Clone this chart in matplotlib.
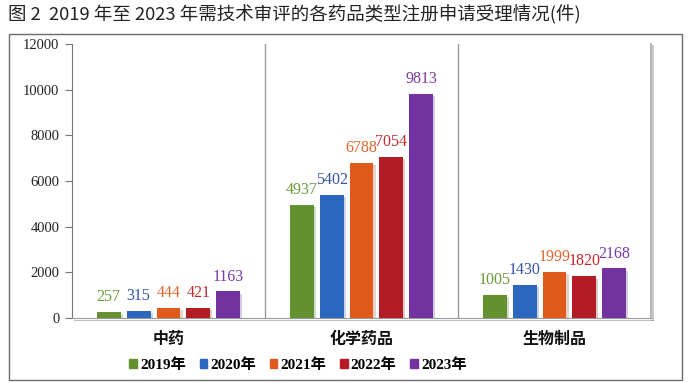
import matplotlib
matplotlib.use("Agg")
import matplotlib.pyplot as plt
from matplotlib.patches import Rectangle
import matplotlib.patheffects as pe
import numpy as np

categories = ["中药", "化学药品", "生物制品"]
years = ["2019年", "2020年", "2021年", "2022年", "2023年"]
v2019 = [257, 4937, 1005]
v2020 = [315, 5402, 1430]
v2021 = [444, 6788, 1999]
v2022 = [421, 7054, 1820]
v2023 = [1163, 9813, 2168]
series = [v2019, v2020, v2021, v2022, v2023]
bar_colors = ["#64912F", "#2B67BE", "#E05A1C", "#B31C24", "#7232A0"]
label_colors = ["#6A9A3A", "#3552A5", "#E0652D", "#C2292F", "#7A3AA5"]
yticks = [0, 2000, 4000, 6000, 8000, 10000, 12000]
title = "图 2  2019 年至 2023 年需技术审评的各药品类型注册申请受理情况(件)"

cjk = ["Noto Sans CJK SC", "DejaVu Sans"]
serif = ["Liberation Serif", "DejaVu Serif"]
serif_cjk = ["Liberation Serif", "Noto Sans CJK SC"]
plt.rcParams["font.family"] = serif

fig = plt.figure(figsize=(6.96, 3.82), dpi=100)
fig.patches.append(Rectangle((9/696, 2/382), (682-9)/696, (380-34)/382,
                             transform=fig.transFigure, fill=False,
                             edgecolor="#6b6b6b", linewidth=1.0))
fig.text(8/696, 1 - 15/382, title, family=cjk, fontsize=13.3,
         ha="left", va="center", color="#222222")

ax = fig.add_axes([72/696, 1 - 318/382, (651-72)/696, (318-44)/382])
x = np.arange(len(categories))
spacing = 0.155
width = 0.124
shadow = [pe.SimplePatchShadow(offset=(1.5, -1.5), alpha=0.22, rho=0.6), pe.Normal()]
for i, (vals, c, lc) in enumerate(zip(series, bar_colors, label_colors)):
    xs = x + (i - 2) * spacing
    bars = ax.bar(xs, vals, width=width, color=c, zorder=3, label=years[i])
    for b in bars:
        b.set_path_effects(shadow)
    for xx, v in zip(xs, vals):
        ax.annotate(f"{v}", (xx, v), xytext=(0, 5), textcoords="offset points",
                    ha="center", va="bottom", family=serif, fontsize=11.5, color=lc)

ax.set_xlim(-0.5, 2.5)
ax.set_ylim(0, 12000)
ax.set_yticks(yticks)
ax.set_yticklabels([str(t) for t in yticks])
ax.tick_params(axis="y", direction="out", length=5, color="#777777", pad=4,
               labelsize=10.5, labelcolor="#222222")
for lbl in ax.get_yticklabels():
    lbl.set_fontfamily(serif)
ax.set_xticks([])
for xv in [0.5, 1.5]:
    ax.axvline(xv, color="#9a9a9a", linewidth=1.0, zorder=1)
ax.spines["top"].set_visible(False)
ax.spines["left"].set_color("#777777")
ax.spines["bottom"].set_color("#9a9a9a")
ax.spines["right"].set_color("#a8a8a8")
ax.spines["right"].set_linewidth(1.2)
for s in ["bottom", "right"]:
    ax.spines[s].set_path_effects([pe.SimpleLineShadow(offset=(1.5, -1.5), alpha=0.25), pe.Normal()])

for xx, cat in zip(x, categories):
    ax.text(xx, -0.075, cat, transform=ax.get_xaxis_transform(), ha="center", va="center",
            family=cjk, fontweight="bold", fontsize=11.5, color="#111111")

handles = [Rectangle((0, 0), 1, 1, color=c) for c in bar_colors]
leg = fig.legend(handles, years, loc="center", bbox_to_anchor=(298/696, 1 - 365/382),
                 ncol=5, frameon=False, handlelength=0.5, handleheight=0.5,
                 handletextpad=0.2, columnspacing=0.9,
                 prop={"family": serif_cjk, "weight": "bold", "size": 11})

fig.savefig("out.png", dpi=100)
